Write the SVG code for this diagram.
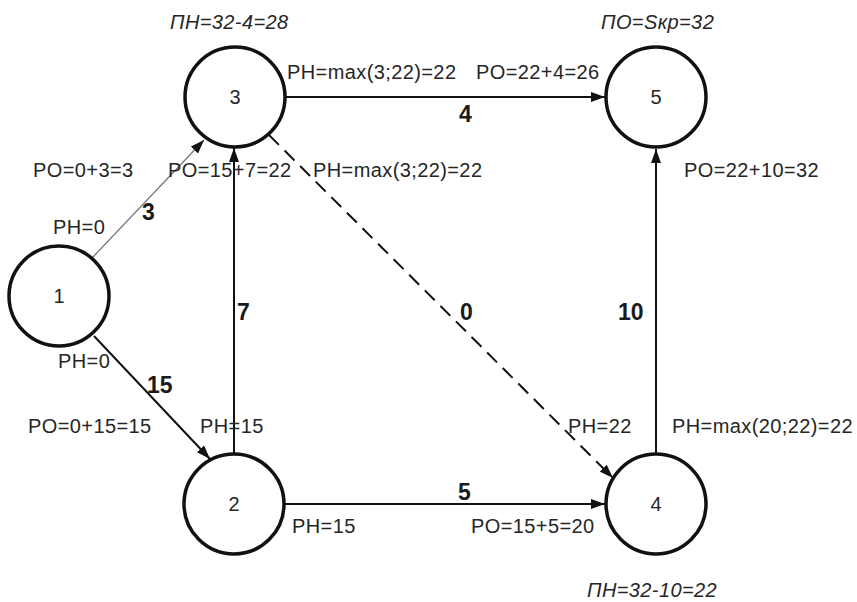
<svg xmlns="http://www.w3.org/2000/svg" width="857" height="602" viewBox="0 0 857 602">
<style>
.t{font-family:"Liberation Sans",Arial,sans-serif;font-size:20px;fill:#262626;letter-spacing:0.4px}
.i{font-style:italic}
.b{font-family:"Liberation Sans",Arial,sans-serif;font-size:23px;font-weight:bold;fill:#1a1a1a}
.n{font-family:"Liberation Sans",Arial,sans-serif;font-size:20px;fill:#262626;text-anchor:middle}
.c{fill:#fff;stroke:#111;stroke-width:3.5}
.e{fill:none;stroke:#111;stroke-width:2}
</style>
<defs>
<marker id="ah" viewBox="0 0 14 10" refX="14" refY="5" markerWidth="14" markerHeight="10" markerUnits="userSpaceOnUse" orient="auto">
<path d="M0,0 L14,5 L0,10 Z" fill="#111"/>
</marker>
</defs>
<g id="connectors">
<path class="e" d="M286,97 L605,97" marker-end="url(#ah)"/>
<path d="M93,257 L204,140" fill="none" stroke="#777" stroke-width="1.3" marker-end="url(#ah)"/>
<path class="e" d="M94,336 L210,459" marker-end="url(#ah)"/>
<path class="e" d="M234,453 L234,148" marker-end="url(#ah)"/>
<path class="e" d="M269,135 L613,478" stroke-dasharray="14,8" marker-end="url(#ah)"/>
<path class="e" d="M285,504 L605,504" marker-end="url(#ah)"/>
<path class="e" d="M656,453 L656,149" marker-end="url(#ah)"/>
</g>
<g id="node1"><circle class="c" cx="59" cy="296" r="50"/><text class="n" x="59" y="303">1</text></g>
<g id="node2"><circle class="c" cx="234" cy="504" r="50"/><text class="n" x="234" y="511">2</text></g>
<g id="node3"><circle class="c" cx="235" cy="97" r="50"/><text class="n" x="235" y="104">3</text></g>
<g id="node4"><circle class="c" cx="656" cy="504" r="50"/><text class="n" x="656" y="511">4</text></g>
<g id="node5"><circle class="c" cx="656" cy="97" r="50"/><text class="n" x="656" y="104">5</text></g>
<g id="labels">
<text class="t i" x="170" y="29">ПН=32-4=28</text>
<text class="t i" x="601" y="29">ПО=Sкр=32</text>
<text class="t" x="287" y="79">PH=max(3;22)=22</text>
<text class="t" x="476" y="79">PO=22+4=26</text>
<text class="b" x="459" y="122">4</text>
<text class="t" x="33" y="177">PO=0+3=3</text>
<text class="t" x="168" y="177">PO=15+7=22</text>
<text class="t" x="313" y="177">PH=max(3;22)=22</text>
<text class="t" x="684" y="177">PO=22+10=32</text>
<text class="t" x="53" y="234">PH=0</text>
<text class="b" x="142" y="220">3</text>
<text class="b" x="237" y="320">7</text>
<text class="b" x="460" y="320">0</text>
<text class="b" x="618" y="320">10</text>
<text class="t" x="58" y="368">PH=0</text>
<text class="b" x="147" y="393">15</text>
<text class="t" x="28" y="433">PO=0+15=15</text>
<text class="t" x="200" y="433">PH=15</text>
<text class="t" x="568" y="433">PH=22</text>
<text class="t" x="672" y="433">PH=max(20;22)=22</text>
<text class="b" x="458" y="500">5</text>
<text class="t" x="292" y="533">PH=15</text>
<text class="t" x="471" y="533">PO=15+5=20</text>
<text class="t i" x="587" y="597">ПН=32-10=22</text>
</g>
</svg>
